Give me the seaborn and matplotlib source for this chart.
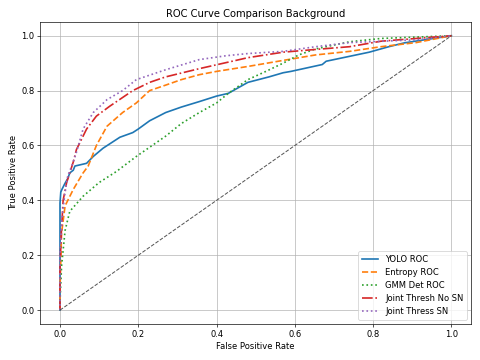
from matplotlib import pyplot as plt
import seaborn as sns
import pandas as pd

# ROC points (fpr, tpr)
yolo_fpr = [0.0, 0.0, 0.002, 0.005, 0.012, 0.02, 0.025, 0.034, 0.038, 0.068, 0.085, 0.11, 0.153, 0.186, 0.2,
            0.229, 0.27, 0.31, 0.356, 0.40, 0.43, 0.48, 0.534, 0.57, 0.59, 0.67, 0.68, 0.74, 0.79, 0.84, 0.88, 1.0]
yolo_tpr = [0.0, 0.39, 0.43, 0.44, 0.46, 0.48, 0.50, 0.51, 0.525, 0.535, 0.56, 0.59, 0.63, 0.647, 0.66,
            0.69, 0.72, 0.74, 0.76, 0.78, 0.79, 0.83, 0.85, 0.865, 0.87, 0.895, 0.907, 0.925, 0.94, 0.96, 0.974, 1.0]

entropy_fpr = [0.0, 0.0, 0.004, 0.013, 0.034, 0.059, 0.072, 0.093, 0.12, 0.16, 0.195, 0.229, 0.27, 0.31,
               0.356, 0.40, 0.48, 0.57, 0.653, 0.74, 0.82, 0.91, 1.0]
entropy_tpr = [0.0, 0.076, 0.28, 0.38, 0.44, 0.50, 0.525, 0.60, 0.67, 0.72, 0.755, 0.80, 0.82, 0.84,
               0.858, 0.87, 0.888, 0.91, 0.93, 0.943, 0.96, 0.975, 1.0]

gmm_fpr = [0.0, 0.0, 0.004, 0.013, 0.025, 0.059, 0.10, 0.144, 0.195, 0.27, 0.31, 0.356, 0.40, 0.43, 0.48,
           0.526, 0.57, 0.61, 0.653, 0.74, 0.82, 1.0]
gmm_tpr = [0.0, 0.03, 0.16, 0.29, 0.36, 0.415, 0.465, 0.505, 0.56, 0.634, 0.68, 0.72, 0.755, 0.79, 0.84,
           0.87, 0.90, 0.93, 0.952, 0.978, 0.99, 1.0]

nosn_fpr = [0.0, 0.0, 0.003, 0.008, 0.017, 0.025, 0.034, 0.042, 0.068, 0.093, 0.127, 0.186, 0.229, 0.27,
            0.356, 0.44, 0.48, 0.57, 0.653, 0.74, 0.82, 1.0]
nosn_tpr = [0.0, 0.15, 0.27, 0.40, 0.465, 0.50, 0.54, 0.585, 0.66, 0.707, 0.743, 0.80, 0.83, 0.85,
            0.88, 0.907, 0.92, 0.94, 0.95, 0.96, 0.98, 1.0]

sn_fpr = [0.0, 0.0, 0.005, 0.012, 0.02, 0.03, 0.042, 0.059, 0.085, 0.12, 0.16, 0.195, 0.27, 0.356, 0.424,
          0.48, 0.57, 0.653, 0.74, 0.91, 1.0]
sn_tpr = [0.0, 0.2, 0.33, 0.42, 0.49, 0.525, 0.575, 0.66, 0.72, 0.767, 0.80, 0.84, 0.876, 0.913, 0.927,
          0.935, 0.943, 0.96, 0.975, 0.985, 1.0]

curves = [
    ("YOLO ROC", yolo_fpr, yolo_tpr, "-", ":"),
    ("Entropy ROC", entropy_fpr, entropy_tpr, "--", None),
    ("GMM Det ROC", gmm_fpr, gmm_tpr, ":", None),
    ("Joint Thresh No SN", nosn_fpr, nosn_tpr, "-.", None),
    ("Joint Thress SN", sn_fpr, sn_tpr, ":", None),
]
colors = sns.color_palette("tab10")
colors = [colors[0], colors[1], colors[2], colors[3], colors[4]]

plt.figure(figsize=(8, 6), dpi=60)
ax = plt.gca()
for (label, fpr, tpr, ls, _), c in zip(curves, colors):
    df = pd.DataFrame({"fpr": fpr, "tpr": tpr})
    sns.lineplot(data=df, x="fpr", y="tpr", ax=ax, label=label, color=c,
                 linestyle=ls, linewidth=2, estimator=None, sort=False)

# chance line
ax.plot([0, 1], [0, 1], linestyle="--", color="#444444", alpha=0.9, linewidth=1.2)

ax.set_xlim(-0.05, 1.05)
ax.set_ylim(-0.05, 1.05)
ax.set_xlabel("False Positive Rate")
ax.set_ylabel("True Positive Rate")
ax.set_title("ROC Curve Comparison Background")
ax.grid(True)
ax.legend(loc="lower right")
plt.tight_layout()
plt.savefig("out.png", dpi=60)
